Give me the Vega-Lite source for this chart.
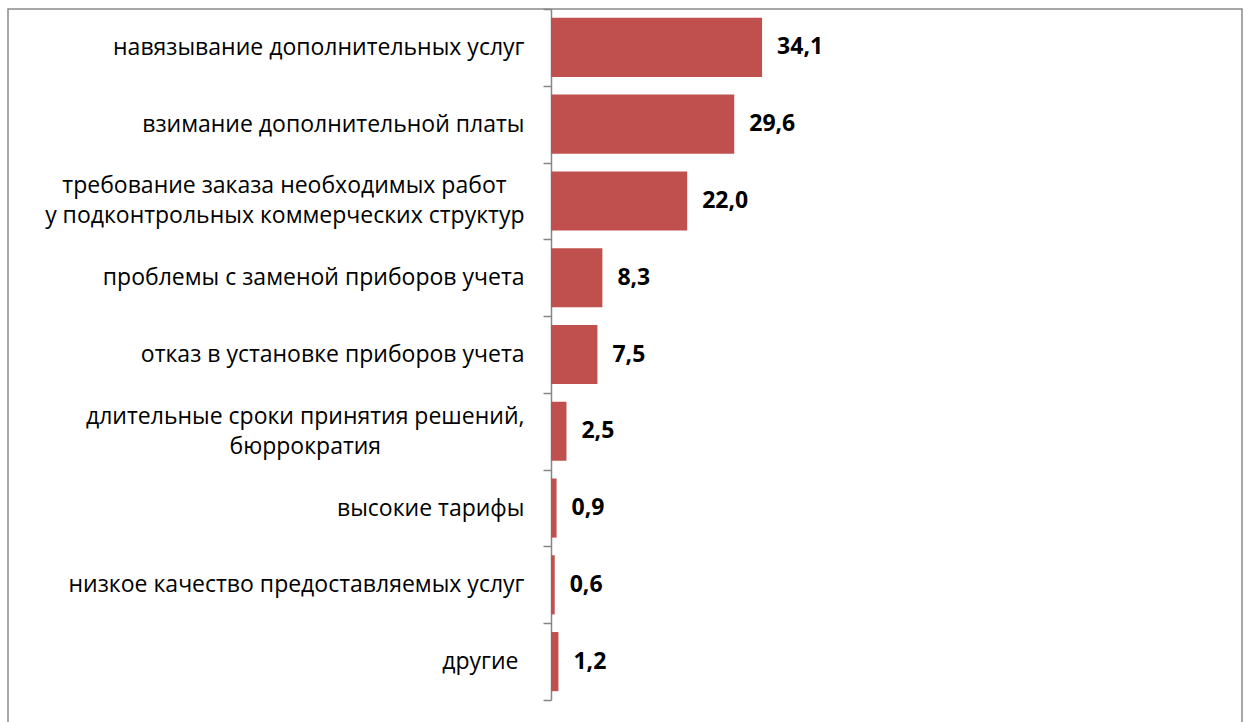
{
  "$schema": "https://vega.github.io/schema/vega-lite/v6.json",
  "width": 1234,
  "height": 720,
  "autosize": {"type": "none"},
  "padding": {"left": 8, "top": 9, "right": 7, "bottom": 0},
  "background": "white",
  "config": {
    "view": {"stroke": "#8a8a8a", "strokeWidth": 1.5},
    "font": "Open Sans",
    "locale": {"number": {"decimal": ",", "thousands": " ", "grouping": [3], "currency": ["", ""]}}
  },
  "data": {
    "values": [
      {"label": "навязывание дополнительных услуг", "value": 34.1},
      {"label": "взимание дополнительной платы", "value": 29.6},
      {"label": "требование заказа необходимых работ\u00a0\u00a0\u00a0\u200b|у подконтрольных коммерческих структур", "value": 22.0},
      {"label": "проблемы с заменой приборов учета", "value": 8.3},
      {"label": "отказ в установке приборов учета", "value": 7.5},
      {"label": "длительные сроки принятия решений,|бюррократия\u00a0\u00a0\u00a0\u00a0\u00a0\u00a0\u00a0\u00a0\u00a0\u00a0\u00a0\u00a0\u00a0\u00a0\u00a0\u00a0\u00a0\u00a0\u00a0\u00a0\u00a0\u00a0\u00a0\u00a0\u200b", "value": 2.5},
      {"label": "высокие тарифы", "value": 0.9},
      {"label": "низкое качество предоставляемых услуг", "value": 0.6},
      {"label": "другие\u00a0\u200b", "value": 1.2}
    ]
  },
  "encoding": {
    "y": {
      "field": "label",
      "type": "nominal",
      "sort": null,
      "scale": {"range": [0, 691], "paddingInner": 0, "paddingOuter": 0},
      "axis": {
        "title": null,
        "orient": "left",
        "offset": -543,
        "grid": false,
        "domainColor": "#868686",
        "domainWidth": 1.5,
        "tickColor": "#868686",
        "tickWidth": 1.5,
        "tickSize": 8,
        "tickBand": "extent",
        "labelPadding": 19,
        "labelFont": "Open Sans",
        "labelFontSize": 23,
        "labelColor": "#000000",
        "labelLimit": 0,
        "labelLineHeight": 30,
        "labelAlign": "right",
        "labelBaseline": "middle",
        "labelOffset": {"condition": {"test": "indexof(datum.label, '|') >= 0", "value": -15}, "value": 0},
        "labelExpr": "split(datum.label, '|')"
      }
    }
  },
  "layer": [
    {
      "mark": {"type": "bar", "color": "#C0504D", "height": {"band": 0.77}},
      "encoding": {
        "x": {
          "field": "value",
          "type": "quantitative",
          "scale": {"domain": [-87.72, 111.63], "nice": false, "zero": false},
          "axis": null
        }
      }
    },
    {
      "mark": {"type": "text", "align": "left", "baseline": "middle", "dx": 15, "fontWeight": "bold", "fontSize": 23, "font": "Open Sans", "color": "#000000"},
      "encoding": {
        "x": {"field": "value", "type": "quantitative"},
        "text": {"field": "value", "type": "quantitative", "format": ".1f"}
      }
    }
  ]
}
